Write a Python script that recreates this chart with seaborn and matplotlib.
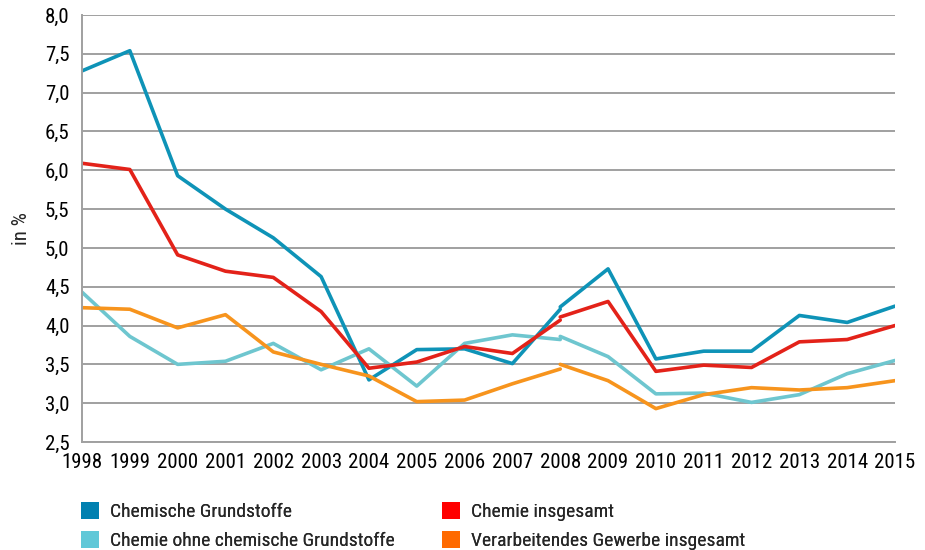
import matplotlib
matplotlib.use("Agg")
import matplotlib.pyplot as plt
import seaborn as sns
import pandas as pd
from matplotlib.patches import Patch
from matplotlib import font_manager

# years before and after the 2008 break in the series
years_a = list(range(1998, 2009))
years_b = list(range(2008, 2016))

grund_a = [7.28, 7.54, 5.93, 5.50, 5.13, 4.63, 3.30, 3.69, 3.70, 3.51, 4.21]
grund_b = [4.24, 4.73, 3.57, 3.67, 3.67, 4.13, 4.04, 4.25]
chemie_a = [6.09, 6.01, 4.91, 4.70, 4.62, 4.18, 3.45, 3.53, 3.73, 3.64, 4.07]
chemie_b = [4.11, 4.31, 3.41, 3.49, 3.46, 3.79, 3.82, 4.00]
ohne_a = [4.43, 3.86, 3.50, 3.54, 3.77, 3.43, 3.70, 3.22, 3.77, 3.88, 3.82]
ohne_b = [3.86, 3.60, 3.12, 3.13, 3.01, 3.11, 3.38, 3.55]
gewerbe_a = [4.23, 4.21, 3.97, 4.14, 3.66, 3.50, 3.35, 3.02, 3.04, 3.25, 3.44]
gewerbe_b = [3.50, 3.29, 2.93, 3.11, 3.20, 3.17, 3.20, 3.29]

series_names = ["Chemische Grundstoffe", "Chemie ohne chemische Grundstoffe",
                "Chemie insgesamt", "Verarbeitendes Gewerbe insgesamt"]
line_colors = ["#0e93b7", "#6ec6cf", "#e32219", "#f7941d"]
legend_colors = ["#0080b0", "#60c8d8", "#ff0000", "#ff6a00"]

y_ticks = [2.5, 3.0, 3.5, 4.0, 4.5, 5.0, 5.5, 6.0, 6.5, 7.0, 7.5, 8.0]
y_labels = ["2,5", "3,0", "3,5", "4,0", "4,5", "5,0", "5,5", "6,0", "6,5", "7,0", "7,5", "8,0"]
x_ticks = list(range(1998, 2016))

rows = []
for name, a, b in zip(series_names,
                      [grund_a, ohne_a, chemie_a, gewerbe_a],
                      [grund_b, ohne_b, chemie_b, gewerbe_b]):
    for yr, v in zip(years_a, a):
        rows.append((yr, v, name, "a"))
    for yr, v in zip(years_b, b):
        rows.append((yr, v, name, "b"))
df = pd.DataFrame(rows, columns=["year", "value", "series", "segment"])

sns.set_style("white")

# look for a narrow font, the original uses a condensed face
fonts = font_manager.fontManager.ttflist
names = {f.name for f in fonts}
stretch = "normal"
family = None
for cand in ["Liberation Sans Narrow", "Roboto Condensed", "Open Sans Condensed",
             "Noto Sans Condensed", "DejaVu Sans Condensed", "Arial Narrow"]:
    if cand in names:
        family = cand
        break
if family is None:
    if any(f.name == "DejaVu Sans" and f.stretch in ("condensed", "semi-condensed") for f in fonts):
        family = "DejaVu Sans"
        stretch = "condensed"
    else:
        family = "Roboto"
plt.rcParams["font.family"] = [family, "DejaVu Sans"]
plt.rcParams["font.stretch"] = stretch
fs = 15 if family != "Roboto" else 12.5

fig = plt.figure(figsize=(9.25, 5.5), dpi=100)
ax = fig.add_axes([82 / 925, 1 - 442 / 550, (895 - 82) / 925, (442 - 15) / 550])

sns.lineplot(data=df, x="year", y="value", hue="series", units="segment",
             estimator=None, palette=dict(zip(series_names, line_colors)),
             hue_order=series_names, linewidth=2.6, legend=False, ax=ax)

ax.set_xlim(1998, 2015)
ax.set_ylim(2.5, 8.0)
ax.set_yticks(y_ticks)
ax.set_yticklabels(y_labels, fontsize=fs)
ax.set_xticks(x_ticks)
ax.set_xticklabels([str(x) for x in x_ticks], fontsize=fs)
ax.grid(axis="y", color="#a0a0a0", linewidth=1.4)
ax.set_axisbelow(True)
for s in ["top", "right"]:
    ax.spines[s].set_visible(False)
for s in ["left", "bottom"]:
    ax.spines[s].set_color("#a0a0a0")
    ax.spines[s].set_linewidth(1.4)
ax.tick_params(axis="both", color="#a0a0a0", width=1.4, length=5, labelcolor="black")
ax.tick_params(axis="y", pad=4)
ax.tick_params(axis="x", pad=3)
ax.set_xlabel("")
ax.set_ylabel("in %", fontsize=fs, labelpad=10)

# two legend columns placed separately
handles = [Patch(facecolor=c, edgecolor="none") for c in legend_colors]
leg_fs = fs - 1
for i, x0 in enumerate([81 / 925, 442 / 925]):
    leg = fig.legend(handles[2 * i:2 * i + 2], series_names[2 * i:2 * i + 2],
                     loc="upper left", frameon=False,
                     bbox_to_anchor=(x0, 1 - 502 / 550), fontsize=leg_fs,
                     handlelength=0.9, handleheight=0.95, handletextpad=0.6,
                     labelspacing=0.5, borderpad=0, borderaxespad=0)
    fig.add_artist(leg)

fig.savefig("out.png", dpi=100)
